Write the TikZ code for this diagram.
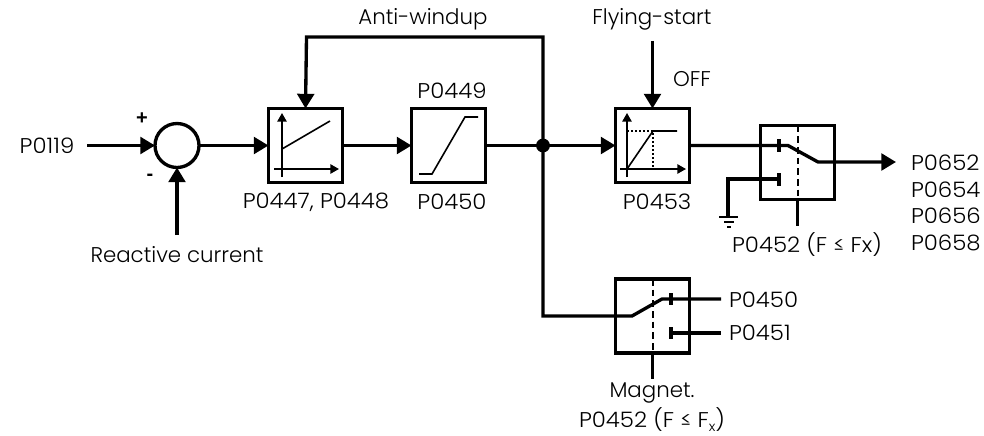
\documentclass[tikz,border=0pt]{standalone}
\usepackage{fontspec}
\setmainfont{Poppins Light}
\newfontfamily\numfont[FakeStretch=1.07]{Poppins Light}
\newfontfamily\signfont{Liberation Sans}
\usetikzlibrary{arrows.meta}
\tikzset{
  x=0.75pt,y=-0.75pt,
  wire/.style={line width=2.5pt,line join=miter},
  arrowwire/.style={wire,-{Triangle[length=11pt,width=12.5pt]}},
  thinline/.style={line width=1.2pt},
  thinarrow/.style={thinline,-{Triangle[length=6.5pt,width=7pt]}},
  blockbox/.style={draw,line width=2.5pt,minimum width=55.5pt,minimum height=55.5pt,inner sep=0pt,outer sep=0pt},
  switchbox/.style={blockbox},
  sumnode/.style={draw,circle,line width=2.5pt,minimum size=33pt,inner sep=0pt,outer sep=0pt},
  lbl/.style={inner sep=0pt,outer sep=0pt,font=\fontsize{16}{18}\selectfont},
  numlbl/.style={lbl,font=\fontsize{16}{18}\selectfont\numfont},
  numleft/.style={numlbl,anchor=west},
  signlbl/.style={inner sep=0pt,outer sep=0pt,font=\fontsize{15}{18}\selectfont\signfont\bfseries},
  sepline/.style={line width=1.5pt,dash pattern=on 5pt off 3pt},
  dotline/.style={line width=0.8pt,dash pattern=on 1.5pt off 1.5pt},
}
\begin{document}
\begin{tikzpicture}
\useasboundingbox (0,0) rectangle (984,435);
% blocks
\node[sumnode] (sum) at (177,145.5) {};
\node[blockbox] (pi) at (305.5,145.5) {};
\node[blockbox] (ramp) at (448.5,145.5) {};
\node[blockbox] (fs) at (652.5,145.5) {};
\node[switchbox] (sw1) at (797.5,162.5) {};
\node[switchbox] (sw2) at (652.5,316) {};
\fill (543,145.5) circle (5.2pt);
\coordinate (jn) at (543,145.5);
% labels
\node[numlbl] (p0119) at (47,145.5) {P0119};
\node[signlbl] (plus) at (142,119) {+};
\node[signlbl] (minus) at (150,177) {-};
\node[lbl] (react) at (177,255) {Reactive current};
\node[lbl] (aw) at (423,19) {Anti-windup};
\node[numlbl] (p449) at (452,91) {P0449};
\node[numlbl] (p450a) at (452,202) {P0450};
\node[numlbl] (p447) at (316,202) {P0447, P0448};
\node[lbl] (fly) at (652,19) {Flying-start};
\node[lbl] (off) at (692,79) {OFF};
\node[numlbl] (p453) at (657,202) {P0453};
\node[numlbl] (p452a) at (807,245) {P0452 (F ≤ Fx)};
\node[numleft] (p652) at (911,163) {P0652};
\node[numleft] (p654) at (911,190) {P0654};
\node[numleft] (p656) at (911,216) {P0656};
\node[numleft] (p658) at (911,243) {P0658};
\node[numleft] (p450b) at (729,300) {P0450};
\node[numleft] (p451) at (729,333) {P0451};
\node[lbl] (mag) at (652,393) {Magnet.};
\node[numlbl] (p452b) at (652,420) {P0452 (F ≤ F\raisebox{-2.5pt}{\fontsize{10}{10}\selectfont x})};
% free ends
\coordinate (in) at (87,145.5);
\coordinate (reactEnd) at (177,235);
\coordinate (flyEnd) at (652.5,41);
\coordinate (outEnd) at (896,162);
\coordinate (top) at (543,37);
\coordinate (topL) at (306.5,37);
% main connectors
\draw[arrowwire] (in) -- (sum.west);
\draw[arrowwire] (reactEnd) -- (sum.south);
\draw[arrowwire] (sum.east) -- (pi.west);
\draw[arrowwire] (pi.east) -- (ramp.west);
\draw[wire] (ramp.east) -- (jn);
\draw[arrowwire] (jn) -- (fs.west);
\draw[arrowwire] (jn) -- (top) -- (topL) -- (pi.north);
\draw[arrowwire] (flyEnd) -- (fs.north);
% block 1 graph
\draw[thinarrow] (282,177) -- (282,113);
\draw[thinarrow] (274,169) -- (339,169);
\draw[thinline] (282,149) -- (330,121);
% block 2 graph
\draw[thinline] (419,174) -- (432,174) -- (465,117) -- (478,117);
% block 3 graph
\draw[thinarrow] (627,177) -- (627,113);
\draw[thinarrow] (620,169) -- (686,169);
\draw[thinline] (627,169) -- (653,131) -- (677,131);
\draw[dotline] (627,131) -- (653,131) -- (653,169);
% switch 1
\draw[sepline] (sw1.north) -- (sw1.south);
\draw[arrowwire] (fs.east) -- (788,145.5) -- (818,162) -- (outEnd);
\draw[wire] (779,139) -- (779,152);
\draw[wire] (779,173) -- (779,186);
\draw[wire] (779,179) -- (728,179) -- (728,217);
\draw[line width=1.5pt] (719,217) -- (738,217);
\draw[line width=1.5pt] (724,222) -- (734,222);
\draw[line width=1.5pt] (727,226.5) -- (731,226.5);
\coordinate (c1) at (797.5,226);
\draw[wire] (sw1.south) -- (c1);
% switch 2
\draw[sepline] (sw2.north) -- (sw2.south);
\draw[wire] (jn) -- (543,316) -- (632,316) -- (662,299) -- (721,299);
\draw[wire] (671,293) -- (671,305);
\draw[wire] (671,327) -- (671,339);
\draw[wire] (671,333) -- (721,333);
\coordinate (c2) at (652.5,379);
\draw[wire] (sw2.south) -- (c2);
\end{tikzpicture}
\end{document}
